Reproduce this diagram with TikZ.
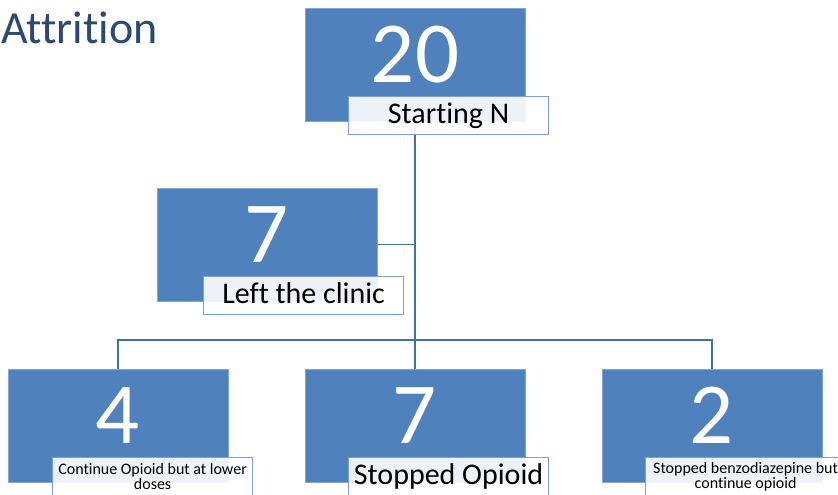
\documentclass[tikz,border=0pt]{standalone}
\usepackage{fontspec}
\setmainfont[Ligatures=NoCommon]{Carlito}
\usetikzlibrary{backgrounds}
\definecolor{boxblue}{HTML}{4F81BD}
\definecolor{linkblue}{HTML}{4470A8}
\definecolor{labedge}{HTML}{7EA0D2}
\definecolor{titlecol}{HTML}{2A4A70}
\begin{document}
\begin{tikzpicture}[x=1pt,y=-1pt,
 bluebox/.style={rectangle, fill=boxblue, draw=boxblue!70!white, line width=0.8pt, inner sep=0pt, outer sep=0pt, minimum width=220pt, minimum height=113pt, anchor=north west},
 tag/.style={rectangle, fill=white, fill opacity=0.9, text opacity=1, draw=labedge, line width=1.2pt, inner sep=0pt, minimum width=200pt, minimum height=38pt, anchor=north west, text=black},
 bigtag/.style={tag, font=\fontsize{30}{30}\selectfont, text height=20pt, text depth=4pt},
 smalltag/.style={tag, font=\fontsize{16}{13}\selectfont, align=center},
 num/.style={text=white, font=\fontsize{87}{87}\selectfont, anchor=base, inner sep=0pt},
 link/.style={draw=linkblue, line width=1.6pt}]
\useasboundingbox (0,0) rectangle (838,495);
\clip (0,0) rectangle (838,495);

\node[anchor=base west, text=titlecol, font=\fontsize{46}{46}\selectfont, inner sep=0pt] (title) at (1,44) {Attrition};

\node[bluebox] (b20) at (305,8) {};
\node[bluebox] (b7a) at (157,188) {};
\node[bluebox] (b4) at (8,369) {};
\node[bluebox] (b7b) at (305,369) {};
\node[bluebox] (b2) at (602,369) {};

\node[num] (n20) at (415,82) {20};
\node[num] (n7a) at (267,262) {7};
\node[num] (n4) at (118,443) {4};
\node[num] (n7b) at (415,443) {7};
\node[num] (n2) at (712,443) {2};

\node[bigtag] (t20) at (348,96) {Starting N};
\node[bigtag] (t7a) at (203,276) {Left the clinic};
\node[smalltag] (t4) at (52,457) {Continue Opioid but at lower\\doses};
\node[bigtag] (t7b) at (348,457) {Stopped Opioid};
\node[smalltag] (t2) at (645,457) {Stopped benzodiazepine but\\continue opioid};

\coordinate (hub) at (415,340);
\begin{scope}[on background layer]
\draw[link] (b20.south) -- (b7b.north);
\draw[link] (b7a.east) -- (b7a.east -| b20.south);
\draw[link] (b4.north) |- (hub) -| (b2.north);
\end{scope}
\end{tikzpicture}
\end{document}
